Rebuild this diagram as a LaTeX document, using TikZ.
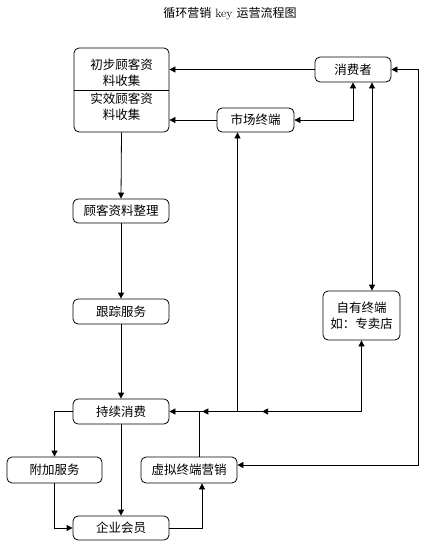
\documentclass[tikz,border=0pt]{standalone}
\usepackage{fontspec}
\newfontfamily\cjk{Noto Sans CJK SC}
\usetikzlibrary{arrows.meta,decorations.markings,calc}
\begin{document}
\begin{tikzpicture}[x=1pt,y=-1pt,
  line width=0.8pt,
  box/.style={draw,rounded corners=5pt,inner sep=0pt,align=center,font=\cjk\fontsize{12.5}{16}\selectfont},
  txt/.style={inner sep=0pt,align=center,font=\cjk\fontsize{12.5}{16}\selectfont},
  tip/.tip={Triangle[length=6pt,width=6pt]},
  arr/.style={-tip},
  darr/.style={tip-tip}]
\useasboundingbox (0,0) rectangle (432,546);
\node[inner sep=0pt,font=\fontsize{12}{14}\selectfont] (title) at (230,14) {{\cjk 循环营销} key {\cjk 运营流程图}};
% boxes
\node[box,minimum width=95pt,minimum height=84pt] (A) at (121.5,90) {};
\node[txt] (A1) at (121.5,73) {初步顾客资\\料收集};
\node[txt] (A2) at (121.5,107) {实效顾客资\\料收集};
\draw (A.west |- 0,90) -- (A.east |- 0,90);
\node[box,minimum width=76pt,minimum height=25pt] (consumer) at (353,69.5) {消费者};
\node[box,minimum width=77pt,minimum height=24pt] (market) at (255.5,120) {市场终端};
\node[box,minimum width=96pt,minimum height=24pt] (sort) at (121,211) {顾客资料整理};
\node[box,minimum width=96pt,minimum height=25pt] (track) at (121,311.5) {跟踪服务};
\node[box,minimum width=77pt,minimum height=49pt] (own) at (361.5,315.5) {自有终端\\如：专卖店};
\node[box,minimum width=96pt,minimum height=25pt] (cont) at (121,411.5) {持续消费};
\node[box,minimum width=95pt,minimum height=26pt] (addl) at (54.5,470) {附加服务};
\node[box,minimum width=96pt,minimum height=26pt] (virt) at (189,470) {虚拟终端营销};
\node[box,minimum width=96pt,minimum height=24pt] (member) at (121,528) {企业会员};
% connectors
\draw[arr] (consumer.west) -- (consumer.west -| A.east);
\draw[arr] (market.west) -- (market.west -| A.east);
\draw[darr] (market.east) -| (consumer.south);
\draw[darr] ([xshift=19pt]consumer.south) -- ([xshift=19pt]consumer.south |- own.north);
\coordinate (rc) at (418,465);
\draw[darr] (consumer.east) -| (rc) -- (rc -| virt.east);
\draw[arr] (A.south) -- (sort.north);
\draw[arr] (sort.south) -- (track.north);
\draw[arr] (track.south) -- (cont.north);
\draw[arr] (cont.west) -| (addl.north);
\draw[arr] (addl.south) |- (member.west);
\draw[arr] (cont.south) -- (member.north);
\draw[arr] (member.east) -| ([xshift=13pt]virt.south);
\draw ([xshift=10pt]virt.north) -- ([xshift=10pt]virt.north |- cont.east);
\draw[arr] ([xshift=-18pt]market.south |- cont.east) -- ([xshift=-18pt]market.south);
\draw[darr,postaction={decorate},decoration={markings,
   mark=at position 0.648 with {\arrow{tip}},
   mark=at position 0.875 with {\arrow{tip}}}]
  (own.south) |- (cont.east);
\end{tikzpicture}
\end{document}
